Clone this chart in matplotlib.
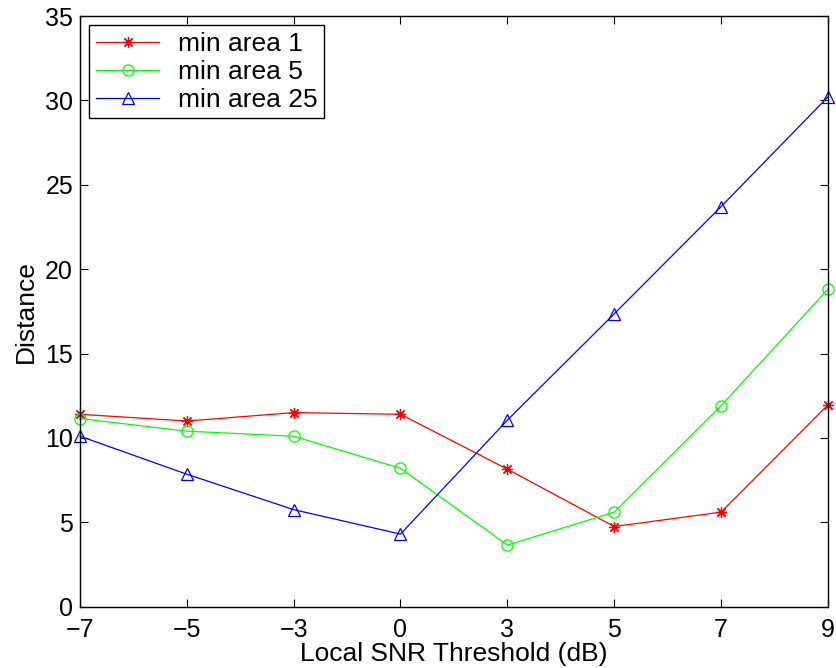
import matplotlib
matplotlib.use("Agg")
import matplotlib.pyplot as plt

# Schwellwerte (kategorisch, gleichabständig dargestellt)
snr_labels = ["\u22127", "\u22125", "\u22123", "0", "3", "5", "7", "9"]

# Distanzwerte pro minimaler Fläche
min_area_1 = [11.4, 11.0, 11.5, 11.4, 8.15, 4.75, 5.6, 11.95]
min_area_5 = [11.15, 10.4, 10.1, 8.2, 3.65, 5.6, 11.9, 18.8]
min_area_25 = [10.1, 7.85, 5.75, 4.3, 11.05, 17.35, 23.7, 30.2]

plt.rcParams['font.family'] = ['Liberation Sans', 'DejaVu Sans']

fig = plt.figure(figsize=(8.37, 6.68), dpi=100)
ax = fig.add_axes([0.0956, 0.0918, 0.8934, 0.8842])

x = list(range(len(snr_labels)))

# Marker am Rand nicht abschneiden
ax.plot(x, min_area_1, color='#ff0000', marker=(8, 2, 0), markersize=8,
        linewidth=0.9, markeredgewidth=0.9, label='min area 1', clip_on=False)
ax.plot(x, min_area_5, color='#00ff00', marker='o', markersize=8,
        markerfacecolor='none', linewidth=0.9, markeredgewidth=0.9,
        label='min area 5', clip_on=False)
ax.plot(x, min_area_25, color='#0000ff', marker='^', markersize=9,
        markerfacecolor='none', linewidth=0.9, markeredgewidth=0.9,
        label='min area 25', clip_on=False)

ax.set_xlim(0, len(snr_labels) - 1)
ax.set_ylim(0, 35)
ax.set_xticks(x)
ax.set_xticklabels(snr_labels)
ax.set_yticks(range(0, 36, 5))

ax.tick_params(direction='in', top=True, right=True, labelsize=18, length=6)
ax.tick_params(axis='x', pad=8)
ax.tick_params(axis='y', pad=5)
for s in ax.spines.values():
    s.set_linewidth(1.0)

ax.set_xlabel("Local SNR Threshold (dB)", fontsize=19, labelpad=0)
ax.set_ylabel("Distance", fontsize=19, labelpad=5)

leg = ax.legend(loc='upper left', fontsize=19, numpoints=1, fancybox=False,
                framealpha=1, edgecolor='black', borderpad=0.25,
                handlelength=2.4, handletextpad=0.7, labelspacing=0.15,
                borderaxespad=0.35)
leg.get_frame().set_linewidth(1.0)

plt.savefig("out.png", dpi=100)
